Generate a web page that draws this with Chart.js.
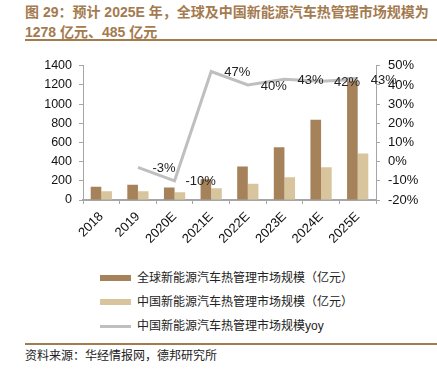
<!DOCTYPE html>
<html lang="zh">
<head>
    <meta charset="UTF-8">
    <title>全球及中国新能源汽车热管理市场规模</title>
    <script src="https://cdn.jsdelivr.net/npm/chart.js"></script>
    <style>
        body { margin: 0; width: 437px; height: 370px; background: #fff; position: relative; overflow: hidden;
               font-family: "Liberation Sans", "Noto Sans CJK SC", sans-serif; }
        .title { position: absolute; left: 25px; top: 2px; width: 420px; color: #A47A4F; font-weight: bold;
                 font-size: 14px; line-height: 20px; white-space: nowrap; }
        .rule { position: absolute; left: 25px; right: 0; height: 2px; background: #A47A4F; }
        .chartbox { position: absolute; left: 0; top: 50px; width: 437px; height: 205px; }
        .legend { position: absolute; left: 100px; top: 266px; font-size: 12px; color: #222; }
        .legend div { height: 24px; line-height: 18px; display: flex; align-items: center; }
        .legend span.sw { display: inline-block; width: 31px; margin-right: 6px; }
        .source { position: absolute; left: 25px; top: 346px; font-size: 12px; color: #222; }
    </style>
</head>
<body>
    <div class="title">图 29：预计 2025E 年，全球及中国新能源汽车热管理市场规模为<br>1278 亿元、485 亿元</div>
    <div class="rule" style="top:39px"></div>
    <div class="chartbox"><canvas id="heatChart" width="437" height="205"></canvas></div>
    <div class="legend" id="legend"></div>
    <div class="rule" style="top:343px; height:1.5px"></div>
    <div class="source">资料来源：华经情报网，德邦研究所</div>

    <script>
        const years = ['2018', '2019', '2020E', '2021E', '2022E', '2023E', '2024E', '2025E'];
        const globalSize = [137, 160, 131, 216, 350, 549, 837, 1278];
        const chinaSize = [92, 90, 80, 122, 170, 238, 342, 485];
        const chinaYoy = [null, -3, -10, 47, 40, 43, 42, 43];
        const leftTicks = [0, 200, 400, 600, 800, 1000, 1200, 1400];
        const rightTicks = [-20, -10, 0, 10, 20, 30, 40, 50];

        const brown = '#A6825A';
        const beige = '#D8C59D';
        const grey = '#BFBFBF';

        // labels for the yoy line sit a bit to the right of each point
        const yoyLabels = {
            id: 'yoyLabels',
            afterDatasetsDraw(chart) {
                const meta = chart.getDatasetMeta(2);
                const ctx = chart.ctx;
                ctx.save();
                ctx.font = '13px "Liberation Sans", Arial';
                ctx.fillStyle = '#222';
                ctx.textAlign = 'center';
                ctx.textBaseline = 'middle';
                meta.data.forEach((pt, i) => {
                    if (chinaYoy[i] === null) return;
                    ctx.fillText(chinaYoy[i] + '%', pt.x + 26, pt.y + 1);
                });
                ctx.restore();
            }
        };

        const ctx = document.getElementById('heatChart').getContext('2d');
        const chart = new Chart(ctx, {
            data: {
                labels: years,
                datasets: [
                    {
                        type: 'bar',
                        label: '全球新能源汽车热管理市场规模（亿元）',
                        data: globalSize,
                        backgroundColor: brown,
                        yAxisID: 'y',
                        order: 2,
                        categoryPercentage: 0.58,
                        barPercentage: 1
                    },
                    {
                        type: 'bar',
                        label: '中国新能源汽车热管理市场规模（亿元）',
                        data: chinaSize,
                        backgroundColor: beige,
                        yAxisID: 'y',
                        order: 2,
                        categoryPercentage: 0.58,
                        barPercentage: 1
                    },
                    {
                        type: 'line',
                        label: '中国新能源汽车热管理市场规模yoy',
                        data: chinaYoy,
                        borderColor: grey,
                        backgroundColor: grey,
                        borderWidth: 3,
                        pointRadius: 0,
                        tension: 0,
                        yAxisID: 'y1',
                        order: 1
                    }
                ]
            },
            options: {
                responsive: false,
                animation: false,
                layout: { padding: { top: 14, bottom: 0, left: 0, right: 0 } },
                plugins: {
                    legend: { display: false },
                    tooltip: { enabled: false }
                },
                scales: {
                    x: {
                        offset: true,
                        afterFit: s => { s.height = 55; },
                        border: { color: '#A6A6A6', width: 2 },
                        grid: { offset: true, drawOnChartArea: false, tickLength: 4, color: '#A6A6A6' },
                        ticks: {
                            maxRotation: 45, minRotation: 45, padding: 5,
                            color: '#111', font: { size: 13, family: '"Liberation Sans", Arial' }
                        }
                    },
                    y: {
                        position: 'left',
                        min: 0, max: 1400,
                        afterFit: s => { s.width = 83; },
                        afterBuildTicks: s => { s.ticks = leftTicks.map(v => ({ value: v })); },
                        border: { color: '#A6A6A6' },
                        grid: { drawOnChartArea: false, tickLength: 4, color: '#A6A6A6' },
                        ticks: {
                            padding: 7, color: '#111',
                            font: { size: 12.5, family: '"Liberation Sans", Arial' },
                            callback: v => String(v)
                        }
                    },
                    y1: {
                        position: 'right',
                        min: -20, max: 50,
                        afterFit: s => { s.width = 61; },
                        afterBuildTicks: s => { s.ticks = rightTicks.map(v => ({ value: v })); },
                        border: { color: '#A6A6A6' },
                        grid: { drawOnChartArea: false, tickLength: 4, color: '#A6A6A6' },
                        ticks: {
                            padding: 8, color: '#111',
                            font: { size: 13, family: '"Liberation Sans", Arial' },
                            callback: v => v + '%'
                        }
                    }
                }
            },
            plugins: [yoyLabels]
        });

        // legend built from the chart's own datasets
        const legendEl = document.getElementById('legend');
        chart.data.datasets.forEach(ds => {
            const row = document.createElement('div');
            const sw = document.createElement('span');
            sw.className = 'sw';
            sw.style.height = ds.type === 'line' ? '3px' : '6px';
            sw.style.background = ds.type === 'line' ? ds.borderColor : ds.backgroundColor;
            row.appendChild(sw);
            row.appendChild(document.createTextNode(ds.label));
            legendEl.appendChild(row);
        });
    </script>
</body>
</html>
